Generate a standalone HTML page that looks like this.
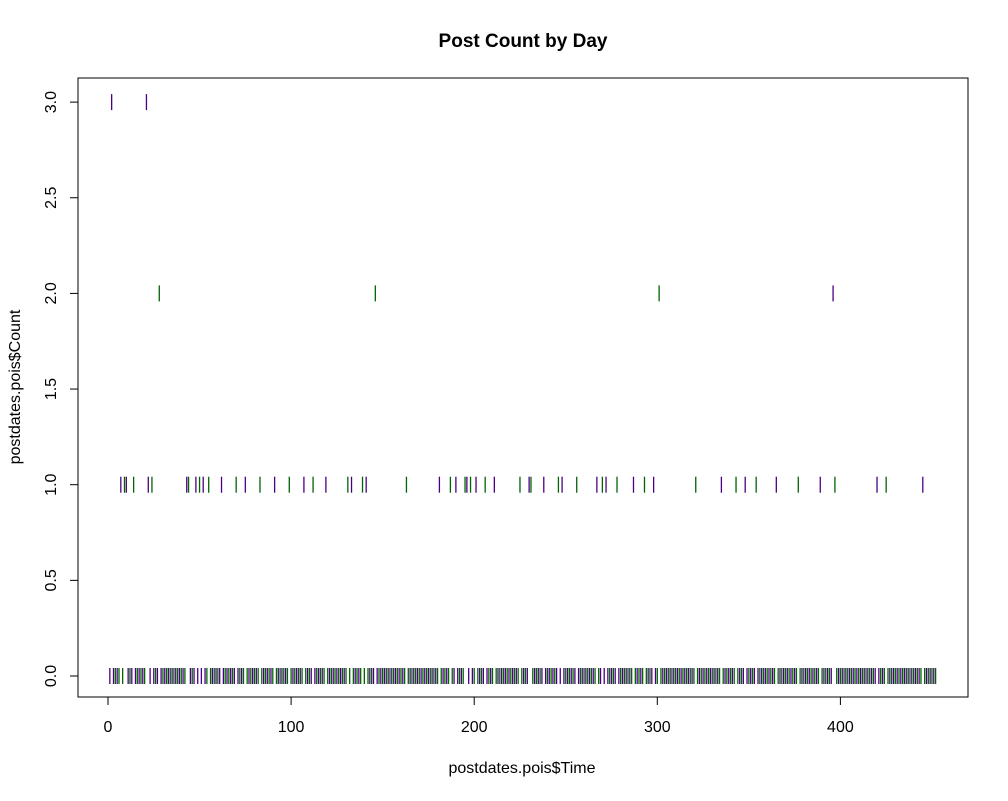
<!DOCTYPE html>
<html><head><meta charset="utf-8"><style>
body{margin:0;background:#fff;}
svg text{font-family:"Liberation Sans",Arial,sans-serif;}
</style></head><body>
<svg id="chart" width="1008" height="796" xmlns="http://www.w3.org/2000/svg">
<rect width="1008" height="796" fill="#fff"/>
<text x="523" y="47" text-anchor="middle" font-size="19" font-weight="bold">Post Count by Day</text>
<rect x="78" y="78" width="890" height="619" fill="none" stroke="#000" stroke-width="1"/>
<g id="xaxis"></g>
<g id="yaxis"></g>
<g id="marks"></g>
<text x="522" y="773" text-anchor="middle" font-size="16">postdates.pois$Time</text>
<text transform="translate(20,387) rotate(-90)" text-anchor="middle" font-size="16">postdates.pois$Count</text>
</svg>
<script>
const xTicks=[0,100,200,300,400];
const yTicks=["0.0","0.5","1.0","1.5","2.0","2.5","3.0"];
const nDays=452;
const days3=[2,21];
const colors3=["#4b0082","#4b0082"];
const days2=[28,146,301,396];
const colors2=["#006400","#006400","#006400","#4b0082"];
const days1=[7,9,10,14,22,24,43,44,48,50,52,55,62,70,75,83,91,99,107,112,119,131,133,139,141,163,181,187,190,195,196,198,201,206,211,225,230,231,238,246,248,256,267,270,272,278,287,293,298,321,335,343,348,354,365,377,389,397,420,425,445];
const xs=t=>108+(t)*1.831;
const ys=v=>676-v*191.3;
const NS="http://www.w3.org/2000/svg";
function mk(tag,attrs,parent){const e=document.createElementNS(NS,tag);for(const k in attrs)e.setAttribute(k,attrs[k]);parent.appendChild(e);return e;}
const xa=document.getElementById('xaxis'),ya=document.getElementById('yaxis'),mg=document.getElementById('marks');
mk('line',{x1:xs(xTicks[0]),x2:xs(xTicks[xTicks.length-1]),y1:697,y2:697,stroke:'#000'},xa);
xTicks.forEach(t=>{
 const l=mk('line',{x1:xs(t),x2:xs(t),y1:697,y2:705,stroke:'#000'},xa);
 
 
 const tx=mk('text',{x:xs(t),y:732,'text-anchor':'middle','font-size':'16'},xa);tx.textContent=t;
 
 
});
mk('line',{x1:78,x2:78,y1:ys(0),y2:ys(3),stroke:'#000'},ya);
yTicks.forEach(t=>{
 const v=parseFloat(t);
 const l=mk('line',{x1:70,x2:78,y1:ys(v),y2:ys(v),stroke:'#000'},ya);
 
 
 const tx=mk('text',{x:0,y:0,'text-anchor':'middle','font-size':'16',transform:`translate(56,${ys(v)}) rotate(-90)`},ya);tx.textContent=t;
 
 
});
function mark(d,v,c){
 const l=mk('line',{x1:xs(d),x2:xs(d),y1:ys(v)-8,y2:ys(v)+8,stroke:c,'stroke-width':'1.3'},mg);
 
 
}
const nonzero=new Set([...days1,...days2,...days3]);
for(let d=1;d<=nDays;d++){ if(!nonzero.has(d)) mark(d,0,d%2?'#4b0082':'#006400'); }
days1.forEach((d,i)=>mark(d,1,i%2?'#006400':'#4b0082'));
days2.forEach((d,i)=>mark(d,2,colors2[i]));
days3.forEach((d,i)=>mark(d,3,colors3[i]));
</script>
</body></html>
